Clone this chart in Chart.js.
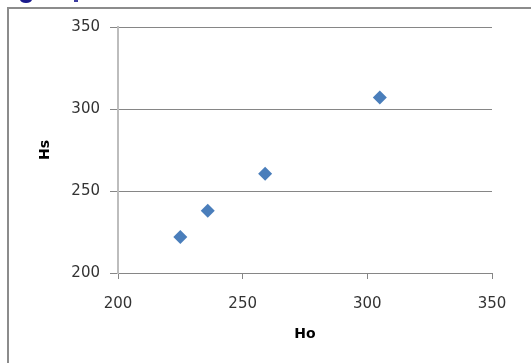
<!DOCTYPE html>
<html>
<head>
<meta charset="utf-8">
<script src="https://cdn.jsdelivr.net/npm/chart.js@4/dist/chart.umd.min.js"></script>
<style>
  html, body { margin: 0; padding: 0; background: #fff; }
  #wrap { position: relative; width: 531px; height: 363px; overflow: hidden; }
  #frame { position: absolute; left: 7px; top: 7px; right: -5px; bottom: -5px;
           border-left: 2px solid #8c8c8c; border-top: 2px solid #8c8c8c; }
  #blob { position: absolute; left: 20px; top: -4px; width: 12px; height: 7px;
          border-radius: 50%; background: #1a1a8c; }
  #blob2 { position: absolute; left: 74px; top: -2px; width: 4px; height: 4px; background: #3a3aa0; }
  canvas { position: absolute; left: 0; top: 0; }
</style>
</head>
<body>
<div id="wrap">
  <div id="frame"></div>
  <div id="blob"></div>
  <div id="blob2"></div>
  <canvas id="scatterChart" width="531" height="363"></canvas>
</div>
<script>
// values
var hoValues = [225, 236, 259, 305];
var hsValues = [222, 238, 260.5, 307];
var xTicks = [200, 250, 300, 350];
var yTicks = [200, 250, 300, 350];

var points = hoValues.map(function (v, i) {
  return { x: v, y: hsValues[i] };
});

var tickFont = { family: "DejaVu Sans", size: 15 };
var titleFont = { family: "DejaVu Sans", size: 14, weight: "bold" };

const ctx = document.getElementById("scatterChart");

new Chart(ctx, {
  type: "scatter",
  data: {
    datasets: [
      {
        label: "Hs",
        data: points,
        pointStyle: "rectRot",
        pointRadius: 7,
        pointHoverRadius: 7,
        backgroundColor: "#4A7EBB",
        borderColor: "#4A7EBB",
        borderWidth: 0,
      },
    ],
  },
  options: {
    responsive: false,
    animation: false,
    layout: { padding: { left: 37, top: 27, right: 39, bottom: 16 } },
    plugins: { legend: { display: false }, tooltip: { enabled: false } },
    scales: {
      x: {
        type: "linear",
        min: xTicks[0],
        max: xTicks[xTicks.length - 1],
        afterBuildTicks: function (scale) {
          scale.ticks = xTicks.map(function (v) { return { value: v }; });
        },
        afterFit: function (scale) { scale.height = 347 - 273; },
        grid: { drawOnChartArea: false, drawTicks: true, tickLength: 6, color: "#868686" },
        border: { color: "#868686", width: 1 },
        ticks: { font: tickFont, color: "#333", padding: 16, maxRotation: 0 },
        title: { display: true, text: "Ho", font: titleFont, color: "#000" },
      },
      y: {
        type: "linear",
        min: yTicks[0],
        max: yTicks[yTicks.length - 1],
        afterBuildTicks: function (scale) {
          scale.ticks = yTicks.map(function (v) { return { value: v }; });
        },
        afterFit: function (scale) { scale.width = 118 - 37; },
        grid: { drawTicks: true, tickLength: 8, color: "#868686" },
        border: { color: "#bdbdbd", width: 2 },
        ticks: { font: tickFont, color: "#333", padding: 10 },
        title: { display: true, text: "Hs", font: titleFont, color: "#000", padding: { top: 0, bottom: 0 } },
      },
    },
  },
});
</script>
</body>
</html>
